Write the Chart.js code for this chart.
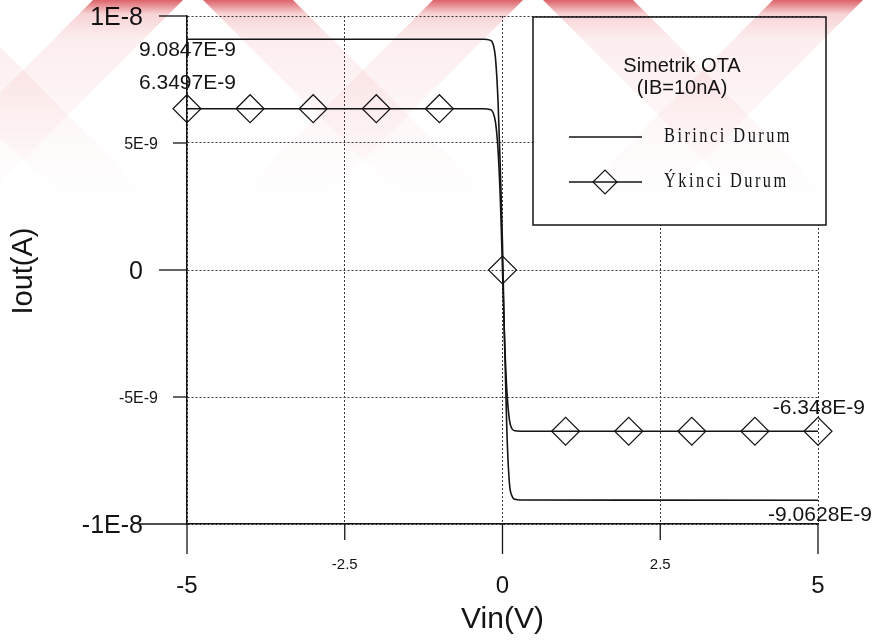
<!DOCTYPE html>
<html>
<head>
<meta charset="utf-8">
<title>Simetrik OTA - Iout / Vin</title>
<script src="https://cdn.jsdelivr.net/npm/chart.js@4.4.1/dist/chart.umd.min.js"></script>
<style>
    html, body { margin: 0; padding: 0; background: #fff; }
    #wrap { width: 879px; height: 640px; position: relative; }
</style>
</head>
<body>
<div id="wrap"><canvas id="chart" width="879" height="640"></canvas></div>
<script>
/* === DATA === */
const xTicks = [-5, -2.5, 0, 2.5, 5];
const xTickLabels = ['-5', '-2.5', '0', '2.5', '5'];
const yTicks = [1e-8, 5e-9, 0, -5e-9, -1e-8];
const yTickLabels = ['1E-8', '5E-9', '0', '-5E-9', '-1E-8'];

// Birinci Durum (A)
const birinciX = [-5, -0.3, -0.2, -0.15, -0.11, -0.07, -0.03, 0, 0.03, 0.07, 0.11, 0.15, 0.2, 0.28, 5];
const birinciY = [9.0847e-9, 9.083e-9, 9.05e-9, 8.9e-9, 8.3e-9, 6.6e-9, 3.6e-9, 1.0e-9, -2.6e-9, -6.4e-9, -8.4e-9, -8.9e-9, -9.03e-9, -9.058e-9, -9.0628e-9];

// Ikinci Durum (A)
const ikinciX = [-5, -0.3, -0.2, -0.15, -0.11, -0.07, -0.03, 0, 0.03, 0.07, 0.11, 0.15, 0.2, 0.28, 5];
const ikinciY = [6.3497e-9, 6.348e-9, 6.32e-9, 6.2e-9, 5.8e-9, 4.7e-9, 2.5e-9, 0, -2.5e-9, -4.8e-9, -5.9e-9, -6.25e-9, -6.33e-9, -6.346e-9, -6.348e-9];

// Ikinci Durum markers
const markerX = [-5, -4, -3, -2, -1, 0, 1, 2, 3, 4, 5];
const markerY = [6.3497e-9, 6.3497e-9, 6.3497e-9, 6.3497e-9, 6.3497e-9, 0, -6.348e-9, -6.348e-9, -6.348e-9, -6.348e-9, -6.348e-9];

const seriesNames = ['Birinci Durum', '\u00DDkinci Durum'];
const legendTitle = ['Simetrik OTA', '(IB=10nA)'];
const endLabels = ['9.0847E-9', '6.3497E-9', '-6.348E-9', '-9.0628E-9'];
const xTitle = 'Vin(V)';
const yTitle = 'Iout(A)';

const INK = '#141414';
const SANS = '"Liberation Sans", Arial, sans-serif';
const SERIF = '"Liberation Serif", "Times New Roman", serif';

const toPoints = (xs, ys) => xs.map((x, i) => ({ x: x, y: ys[i] }));

/* === HELPERS === */
function line(ctx, x1, y1, x2, y2) {
    ctx.beginPath();
    ctx.moveTo(x1, y1);
    ctx.lineTo(x2, y2);
    ctx.stroke();
}

function diamond(ctx, x, y, r) {
    ctx.beginPath();
    ctx.moveTo(x - r, y);
    ctx.lineTo(x, y - r);
    ctx.lineTo(x + r, y);
    ctx.lineTo(x, y + r);
    ctx.closePath();
    ctx.stroke();
}

// condensed, spaced serif like the scanned legend
function serifText(ctx, text, x, y) {
    ctx.save();
    ctx.translate(x, y);
    ctx.scale(0.82, 1);
    ctx.font = '20px ' + SERIF;
    ctx.letterSpacing = '3px';
    ctx.textAlign = 'left';
    ctx.textBaseline = 'middle';
    ctx.fillText(text, 0, 0);
    ctx.restore();
}

/* === AXES, LABELS, LEGEND === */
const decorations = {
    id: 'decorations',
    afterDraw(chart) {
        const ctx = chart.ctx;
        const xs = chart.scales.x, ys = chart.scales.y;
        ctx.save();
        ctx.strokeStyle = INK;
        ctx.fillStyle = INK;
        ctx.lineWidth = 1.3;

        // y ticks + labels
        yTicks.forEach((v, i) => {
            const py = ys.getPixelForValue(v);
            const major = i % 2 === 0;
            const len = v === ys.min ? 48 : (major ? 28 : 14);
            line(ctx, xs.left - len, py, xs.left, py);
            const size = major ? 25 : 16;
            ctx.font = size + 'px ' + SANS;
            ctx.textAlign = 'right';
            ctx.textBaseline = 'alphabetic';
            ctx.fillText(yTickLabels[i], xs.left - (major ? 44 : 29), py + size * 0.36);
        });

        // x ticks + labels
        xTicks.forEach((v, i) => {
            const px = xs.getPixelForValue(v);
            const major = i % 2 === 0;
            line(ctx, px, ys.bottom, px, ys.bottom + (major ? 30 : 16));
            const size = major ? 24 : 15;
            ctx.font = size + 'px ' + SANS;
            ctx.textAlign = 'center';
            ctx.textBaseline = 'alphabetic';
            ctx.fillText(xTickLabels[i], px, ys.bottom + (major ? 60 : 40) + size * 0.36);
        });

        // axis titles
        ctx.font = '30px ' + SANS;
        ctx.textAlign = 'center';
        ctx.textBaseline = 'middle';
        ctx.fillText(xTitle, (xs.left + xs.right) / 2, ys.bottom + 96);
        ctx.save();
        ctx.translate(24, (ys.top + ys.bottom) / 2 + 1);
        ctx.rotate(-Math.PI / 2);
        ctx.font = '29px ' + SANS;
        ctx.fillText(yTitle, 0, 0);
        ctx.restore();

        // end value labels
        ctx.font = '21px ' + SANS;
        ctx.textBaseline = 'middle';
        ctx.textAlign = 'left';
        ctx.fillText(endLabels[0], xs.getPixelForValue(-5) - 48, ys.getPixelForValue(birinciY[0]) + 11);
        ctx.fillText(endLabels[1], xs.getPixelForValue(-5) - 48, ys.getPixelForValue(ikinciY[0]) - 26);
        ctx.textAlign = 'right';
        ctx.fillText(endLabels[2], xs.getPixelForValue(5) + 47, ys.getPixelForValue(ikinciY[ikinciY.length - 1]) - 23);
        ctx.fillText(endLabels[3], xs.getPixelForValue(5) + 54, ys.getPixelForValue(birinciY[birinciY.length - 1]) + 15);

        // legend box
        const bx = 533, by = 17, bw = 293, bh = 208;
        ctx.fillStyle = '#fff';
        ctx.fillRect(bx, by, bw, bh);
        ctx.lineWidth = 1.5;
        ctx.strokeRect(bx, by, bw, bh);
        ctx.fillStyle = INK;
        ctx.font = '20px ' + SANS;
        ctx.textAlign = 'center';
        ctx.textBaseline = 'middle';
        ctx.fillText(legendTitle[0], 682, 66);
        ctx.fillText(legendTitle[1], 682, 88);

        ctx.lineWidth = 1.4;
        line(ctx, 569, 137, 642, 137);
        serifText(ctx, seriesNames[0], 664, 137);
        line(ctx, 569, 182, 642, 182);
        ctx.lineWidth = 1.2;
        diamond(ctx, 605, 182, 12);
        serifText(ctx, seriesNames[1], 664, 182);
        ctx.restore();
    }
};

/* === SCAN WATERMARK (faint red bands at the top) === */
const watermark = {
    id: 'watermark',
    afterDraw(chart) {
        const ctx = chart.ctx;
        ctx.save();
        ctx.globalCompositeOperation = 'multiply';
        const g = ctx.createLinearGradient(0, 0, 0, 200);
        g.addColorStop(0, 'rgba(205,30,40,0.7)');
        g.addColorStop(0.07, 'rgba(215,40,50,0.2)');
        g.addColorStop(0.2, 'rgba(225,60,70,0.09)');
        g.addColorStop(0.6, 'rgba(225,60,70,0.04)');
        g.addColorStop(1, 'rgba(225,60,70,0)');
        ctx.fillStyle = g;
        const h = 200, w = 90;
        [-157, 183, 523, 863].forEach(a => {
            // "/" leg
            ctx.beginPath();
            ctx.moveTo(a - w, 0);
            ctx.lineTo(a, 0);
            ctx.lineTo(a - h, h);
            ctx.lineTo(a - w - h, h);
            ctx.closePath();
            ctx.fill();
            // "\" leg
            ctx.beginPath();
            ctx.moveTo(a + 20, 0);
            ctx.lineTo(a + 20 + w, 0);
            ctx.lineTo(a + 20 + w + h, h);
            ctx.lineTo(a + 20 + h, h);
            ctx.closePath();
            ctx.fill();
        });
        ctx.restore();
    }
};

/* === CHART === */
const gridOpts = {
    grid: { color: '#3a3a3a', lineWidth: 1, drawTicks: false },
    border: { color: INK, width: 1.5, dash: [2, 2] },
    ticks: { display: false }
};

new Chart(document.getElementById('chart'), {
    type: 'line',
    data: {
        datasets: [{
            label: seriesNames[0],
            data: toPoints(birinciX, birinciY),
            borderColor: INK,
            borderWidth: 1.6,
            pointRadius: 0,
            cubicInterpolationMode: 'monotone',
            fill: false
        }, {
            label: seriesNames[1],
            data: toPoints(ikinciX, ikinciY),
            borderColor: INK,
            borderWidth: 1.6,
            pointRadius: 0,
            cubicInterpolationMode: 'monotone',
            fill: false
        }, {
            label: seriesNames[1] + ' markers',
            data: toPoints(markerX, markerY),
            showLine: false,
            pointStyle: 'rectRot',
            pointRadius: 14,
            pointBorderWidth: 1.2,
            pointBorderColor: INK,
            pointBackgroundColor: 'rgba(0,0,0,0)',
            clip: false
        }]
    },
    options: {
        responsive: false,
        animation: false,
        layout: { padding: { left: 187, right: 61, top: 16, bottom: 116 } },
        plugins: { legend: { display: false }, tooltip: { enabled: false } },
        scales: {
            x: Object.assign({
                type: 'linear', min: -5, max: 5,
                afterBuildTicks: s => { s.ticks = xTicks.map(v => ({ value: v })); }
            }, gridOpts),
            y: Object.assign({
                type: 'linear', min: -1e-8, max: 1e-8,
                afterBuildTicks: s => { s.ticks = yTicks.map(v => ({ value: v })); }
            }, gridOpts)
        }
    },
    plugins: [decorations, watermark]
});
</script>
</body>
</html>
